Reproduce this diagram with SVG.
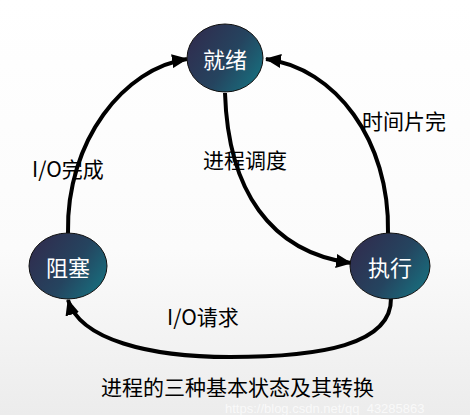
<svg xmlns="http://www.w3.org/2000/svg" width="470" height="415" viewBox="0 0 470 415">
<defs>
<linearGradient id="bg" x1="0" y1="0" x2="0" y2="1">
<stop offset="0" stop-color="#ffffff"/>
<stop offset="0.6" stop-color="#fbfbfb"/>
<stop offset="1" stop-color="#ececec"/>
</linearGradient>
<linearGradient id="nodeFill" x1="0" y1="0.2" x2="1" y2="0.8">
<stop offset="0" stop-color="#302c4e"/>
<stop offset="0.55" stop-color="#25445f"/>
<stop offset="1" stop-color="#17707f"/>
</linearGradient>
<marker id="arrow" markerUnits="userSpaceOnUse" markerWidth="16" markerHeight="14" refX="15" refY="7" orient="auto">
<path d="M0,0 L16,7 L0,14 Z" fill="#000"/>
</marker>
<style>
.node ellipse { fill: url(#nodeFill); stroke: #111; stroke-width: 1; }
.node text { fill: #ffffff; font-family: "Microsoft YaHei", "Noto Sans CJK SC", sans-serif; font-size: 22px; text-anchor: middle; dominant-baseline: central; }
.edge { fill: none; stroke: #000; stroke-width: 4; marker-end: url(#arrow); }
.label { fill: #000; font-family: "Microsoft YaHei", "Noto Sans CJK SC", sans-serif; font-size: 21px; }
</style>
</defs>
<rect x="0" y="0" width="470" height="415" fill="url(#bg)"/>
<g id="connectors">
<path class="edge" d="M68,233 C66,140 125,68 187,59"/>
<path class="edge" d="M388,233 C390,140 335,68 266,59"/>
<path class="edge" d="M225,93 C228,190 270,252 351,263"/>
<path class="edge" d="M391,298 C392,345 320,357 230,357 C150,357 80,340 68,300"/>
</g>
<g id="labels">
<text class="label" x="32" y="177">I/O完成</text>
<text class="label" x="203" y="168">进程调度</text>
<text class="label" x="362" y="129">时间片完</text>
<text class="label" x="167" y="325">I/O请求</text>
<text class="label" x="101" y="395">进程的三种基本状态及其转换</text>
<text x="225" y="413" fill="#ffffff" fill-opacity="0.7" font-family="Liberation Sans, sans-serif" font-size="13">https://blog.csdn.net/qq_43285863</text>
</g>
<g id="node-ready" class="node">
<ellipse cx="225" cy="58" rx="38" ry="34"/>
<text x="225" y="58">就绪</text>
</g>
<g id="node-blocked" class="node">
<ellipse cx="68" cy="266" rx="39" ry="33"/>
<text x="68" y="266">阻塞</text>
</g>
<g id="node-running" class="node">
<ellipse cx="390" cy="266" rx="40" ry="33"/>
<text x="390" y="266">执行</text>
</g>
</svg>
